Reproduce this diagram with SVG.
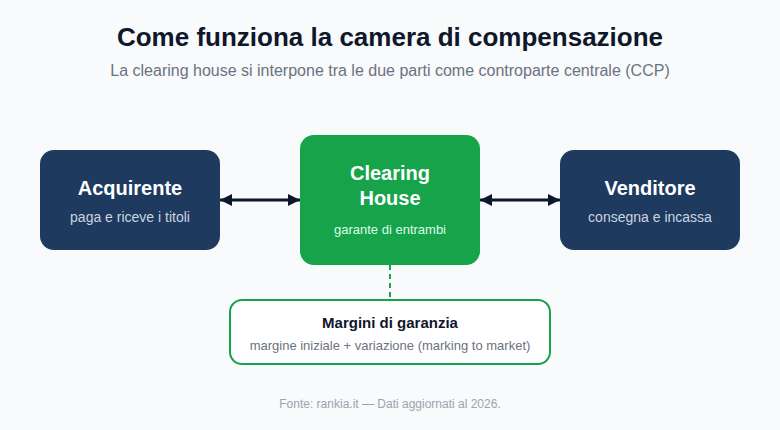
<svg xmlns="http://www.w3.org/2000/svg" width="780" height="430" viewBox="0 0 780 430">
<style>
text{font-family:"Liberation Sans",Arial,sans-serif;text-anchor:middle}
.t{font-size:20px;font-weight:700;fill:#fff}
.s{font-size:14px;fill:#cbd5e1}
.l{stroke:#0f172a;stroke-width:3;fill:none;marker-start:url(#a);marker-end:url(#a)}
</style>
<defs><marker id="a" viewBox="0 0 10 10" refX="10" refY="5" markerWidth="4" markerHeight="4" orient="auto-start-reverse" markerUnits="strokeWidth"><path d="M0 0L10 5L0 10Z" fill="#0f172a"/></marker></defs>
<rect width="780" height="430" fill="#f8fafc"/>
<text x="390" y="46" font-size="26" font-weight="700" fill="#0f172a">Come funziona la camera di compensazione</text>
<text x="390" y="76" font-size="16" fill="#6b7280">La clearing house si interpone tra le due parti come controparte centrale (CCP)</text>
<g id="connectors">
<line class="l" x1="220" y1="200" x2="300" y2="200"/>
<line class="l" x1="480" y1="200" x2="560" y2="200"/>
<line x1="390" y1="265" x2="390" y2="300" stroke="#16a34a" stroke-width="2" stroke-dasharray="5 4"/>
</g>
<g id="acquirente"><rect x="40" y="150" width="180" height="100" rx="14" fill="#1e3a5f"/><text class="t" x="130" y="195">Acquirente</text><text class="s" x="130" y="222">paga e riceve i titoli</text></g>
<g id="clearing"><rect x="300" y="135" width="180" height="130" rx="14" fill="#16a34a"/><text class="t" x="390" y="180">Clearing</text><text class="t" x="390" y="205">House</text><text x="390" y="234" font-size="13" fill="#dcfce7">garante di entrambi</text></g>
<g id="venditore"><rect x="560" y="150" width="180" height="100" rx="14" fill="#1e3a5f"/><text class="t" x="650" y="195">Venditore</text><text class="s" x="650" y="222">consegna e incassa</text></g>
<g id="margini"><rect x="230" y="300" width="320" height="64" rx="12" fill="#fff" stroke="#16a34a" stroke-width="2"/><text x="390" y="328" font-size="15" font-weight="700" fill="#0f172a">Margini di garanzia</text><text x="390" y="350" font-size="13" fill="#6b7280">margine iniziale + variazione (marking to market)</text></g>
<text x="390" y="408" font-size="12" fill="#9ca3af">Fonte: rankia.it — Dati aggiornati al 2026.</text>
</svg>
